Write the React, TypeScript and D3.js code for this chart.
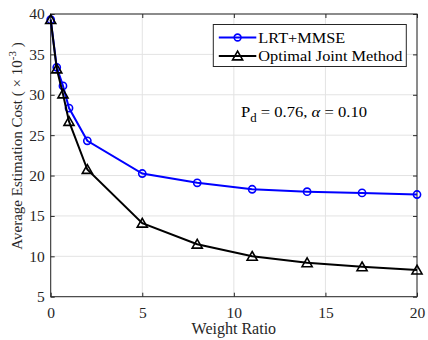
import React, { useEffect, useRef } from 'react';
import * as d3 from 'd3';

const weightRatio = [0, 0.33, 0.67, 1, 2, 5, 8, 11, 14, 17, 20];
const lrtMmse = [39.3, 33.4, 31.1, 28.35, 24.3, 20.25, 19.1, 18.3, 18.0, 17.85, 17.65];
const optimalJoint = [39.3, 33.2, 30.1, 26.7, 20.75, 14.1, 11.5, 10.0, 9.2, 8.7, 8.3];
const xTicks = [0, 5, 10, 15, 20];
const yTicks = [5, 10, 15, 20, 25, 30, 35, 40];
const seriesNames = ['LRT+MMSE', 'Optimal Joint Method'];

const FONT = "'Liberation Serif', 'Times New Roman', serif";

const App = () => {
  const svgRef = useRef<SVGSVGElement>(null);

  useEffect(() => {
    const width = 428;
    const height = 340;
    const m = { top: 14, right: 11, bottom: 43.3, left: 50.7 };
    const iw = width - m.left - m.right;
    const ih = height - m.top - m.bottom;

    const svg = d3.select(svgRef.current);
    svg.selectAll('*').remove();
    svg.attr('width', width).attr('height', height);

    svg.append('rect').attr('width', width).attr('height', height).attr('fill', '#fff');

    const g = svg.append('g').attr('transform', `translate(${m.left},${m.top})`);

    const x = d3.scaleLinear().domain([0, 20]).range([0, iw]);
    const y = d3.scaleLinear().domain([5, 40]).range([ih, 0]);

    // grid
    g.append('g')
      .selectAll('line')
      .data(xTicks)
      .join('line')
      .attr('x1', (d) => x(d)).attr('x2', (d) => x(d))
      .attr('y1', 0).attr('y2', ih)
      .attr('stroke', '#e3e3e3').attr('stroke-width', 1);
    g.append('g')
      .selectAll('line')
      .data(yTicks)
      .join('line')
      .attr('x1', 0).attr('x2', iw)
      .attr('y1', (d) => y(d)).attr('y2', (d) => y(d))
      .attr('stroke', '#e3e3e3').attr('stroke-width', 1);

    // axes (ticks inside)
    const axisStyle = (sel: any) => {
      sel.select('.domain').remove();
      sel.selectAll('line').attr('stroke', '#262626');
      sel.selectAll('text')
        .attr('fill', '#262626')
        .style('font-family', FONT)
        .style('font-size', '15.5px');
    };
    g.append('g').attr('transform', `translate(0,${ih})`)
      .call(d3.axisBottom(x).tickValues(xTicks).tickSize(-4).tickPadding(10).tickFormat(d3.format('d')))
      .call(axisStyle);
    g.append('g')
      .call(d3.axisTop(x).tickValues(xTicks).tickSize(-4).tickFormat(() => ''))
      .call(axisStyle);
    g.append('g')
      .call(d3.axisLeft(y).tickValues(yTicks).tickSize(-4).tickPadding(6).tickFormat(d3.format('d')))
      .call(axisStyle);
    g.append('g').attr('transform', `translate(${iw},0)`)
      .call(d3.axisRight(y).tickValues(yTicks).tickSize(-4).tickFormat(() => ''))
      .call(axisStyle);

    g.append('rect')
      .attr('width', iw).attr('height', ih)
      .attr('fill', 'none').attr('stroke', '#262626').attr('stroke-width', 1);

    const line = d3.line<number>()
      .x((_, i) => x(weightRatio[i]))
      .y((d) => y(d));

    const tri = d3.symbol().type(d3.symbolTriangle).size(44);

    // LRT+MMSE
    g.append('path').datum(lrtMmse)
      .attr('d', line).attr('fill', 'none')
      .attr('stroke', '#0000ff').attr('stroke-width', 2);
    g.append('g').selectAll('circle').data(lrtMmse).join('circle')
      .attr('cx', (_, i) => x(weightRatio[i])).attr('cy', (d) => y(d))
      .attr('r', 3.6).attr('fill', 'none')
      .attr('stroke', '#0000ff').attr('stroke-width', 1.6);

    // Optimal joint
    g.append('path').datum(optimalJoint)
      .attr('d', line).attr('fill', 'none')
      .attr('stroke', '#000').attr('stroke-width', 2);
    g.append('g').selectAll('path').data(optimalJoint).join('path')
      .attr('transform', (d, i) => `translate(${x(weightRatio[i])},${y(d) + 1})`)
      .attr('d', tri).attr('fill', 'none')
      .attr('stroke', '#000').attr('stroke-width', 1.6);

    // legend
    const lg = svg.append('g').attr('transform', 'translate(213.3,24.5)');
    lg.append('rect').attr('width', 193).attr('height', 42)
      .attr('fill', '#fff').attr('stroke', '#262626').attr('stroke-width', 1);
    seriesNames.forEach((name, i) => {
      const cy = 13 + i * 18.5;
      const color = i === 0 ? '#0000ff' : '#000';
      lg.append('line').attr('x1', 5.5).attr('x2', 43).attr('y1', cy).attr('y2', cy)
        .attr('stroke', color).attr('stroke-width', 2);
      if (i === 0) {
        lg.append('circle').attr('cx', 24.3).attr('cy', cy).attr('r', 3.4)
          .attr('fill', 'none').attr('stroke', color).attr('stroke-width', 1.6);
      } else {
        lg.append('path').attr('transform', `translate(24.3,${cy + 1})`).attr('d', tri)
          .attr('fill', 'none').attr('stroke', color).attr('stroke-width', 1.6);
      }
      lg.append('text').attr('x', 45).attr('y', cy + 5)
        .style('font-family', FONT).style('font-size', '15.5px').attr('fill', '#000')
        .attr('textLength', i === 0 ? 87 : 144).attr('lengthAdjust', 'spacingAndGlyphs')
        .text(name);
    });

    // annotation
    const ann = svg.append('text').attr('x', 241).attr('y', 116.5)
      .style('font-family', FONT).style('font-size', '15.5px').attr('fill', '#000')
      .attr('textLength', 126).attr('lengthAdjust', 'spacingAndGlyphs');
    ann.append('tspan').text('P');
    ann.append('tspan').attr('dy', 5).style('font-size', '12px').text('d');
    ann.append('tspan').attr('dy', -5).text(' = 0.76, ');
    ann.append('tspan').style('font-style', 'italic').text('α');
    ann.append('tspan').text(' = 0.10');

    // axis labels
    svg.append('text').attr('x', m.left + iw / 2).attr('y', 334)
      .attr('text-anchor', 'middle')
      .style('font-family', FONT).style('font-size', '16px').attr('fill', '#262626')
      .text('Weight Ratio');

    const yl = svg.append('text')
      .attr('transform', 'translate(22,146) rotate(-90)')
      .attr('text-anchor', 'middle')
      .style('font-family', FONT).style('font-size', '15px').attr('fill', '#262626');
    yl.append('tspan').text('Average Estimation Cost ( × 10');
    yl.append('tspan').attr('dy', -6).style('font-size', '11px').text('-3');
    yl.append('tspan').attr('dy', 6).text(' )');
  }, []);

  return (
    <div style={{ position: 'fixed', left: 0, top: 0 }}>
      <svg ref={svgRef} style={{ display: 'block' }}></svg>
    </div>
  );
};

export default App;
